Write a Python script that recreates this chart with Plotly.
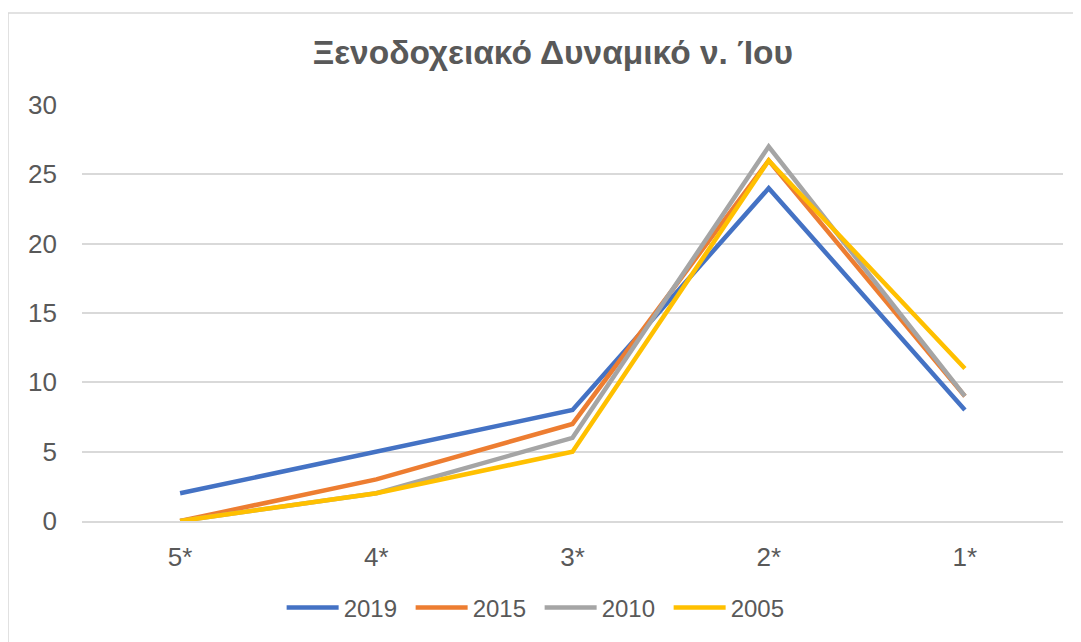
import plotly.graph_objects as go

categories = ["5*", "4*", "3*", "2*", "1*"]
series_names = ["2019", "2015", "2010", "2005"]
v2019 = [2, 5, 8, 24, 8]
v2015 = [0, 3, 7, 26, 9]
v2010 = [0, 2, 6, 27, 9]
v2005 = [0, 2, 5, 26, 11]
colors = ["#4472C4", "#ED7D31", "#A5A5A5", "#FFC000"]

FONT = "Liberation Sans, Arial, sans-serif"
TXT = "#595959"

fig = go.Figure()
for name, vals, col in zip(series_names, [v2019, v2015, v2010, v2005], colors):
    fig.add_trace(go.Scatter(
        x=categories, y=vals, name=name, mode="lines",
        line=dict(color=col, width=4.5),
    ))

# page body has an 8px margin, so margins are shifted to compensate
fig.update_layout(
    width=1081, height=642,
    paper_bgcolor="white", plot_bgcolor="white",
    margin=dict(l=74, r=26, t=97, b=129),
    title=dict(
        text="<b>Ξενοδοχειακό Δυναμικό ν. Ίου</b>",
        x=0.504, xanchor="center", y=0.931, yanchor="middle",
        font=dict(family=FONT, size=33.5, color=TXT),
    ),
    font=dict(family=FONT, color=TXT),
    xaxis=dict(
        type="category", range=[-0.5, 4.5],
        showgrid=False, showline=True, linecolor="#D9D9D9", linewidth=1.5,
        tickfont=dict(size=26, color=TXT), ticks="", ticklabelstandoff=12,
    ),
    yaxis=dict(
        range=[0, 30], dtick=5, showgrid=True, gridcolor="#D9D9D9", gridwidth=1.5,
        zeroline=False, showline=False, ticks="",
        tickfont=dict(size=26, color=TXT), ticklabelstandoff=24,
    ),
    legend=dict(
        orientation="h", x=0.4665, xanchor="center", y=-0.209, yanchor="middle",
        font=dict(size=24, color=TXT), itemwidth=52, tracegroupgap=0,
        entrywidth=62, entrywidthmode="pixels",
    ),
    showlegend=True,
    shapes=[dict(
        type="rect", xref="paper", yref="paper",
        x0=-0.0754, x1=1.03, y0=-0.35, y1=1.221,
        line=dict(color="#D9D9D9", width=1.5), layer="below",
    )],
)

fig.write_html("out.html")
